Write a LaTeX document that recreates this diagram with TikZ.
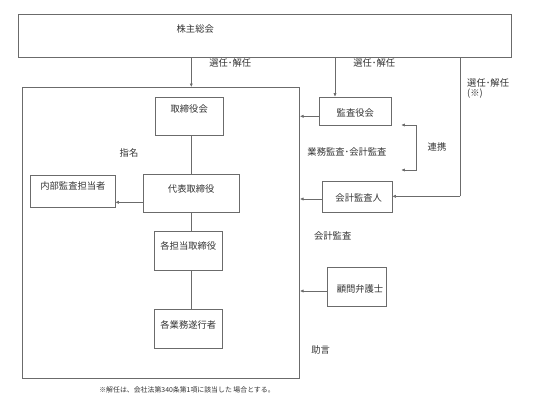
\documentclass[tikz,border=0pt]{standalone}
\usepackage{fontspec}
\newfontfamily\jpfont{Noto Sans CJK JP}
\usetikzlibrary{arrows.meta}
\definecolor{linegray}{gray}{0.42}
\definecolor{txt}{gray}{0.2}
\tikzset{
  boxnode/.style={draw=linegray, line width=0.6pt, inner sep=0pt, anchor=north, align=center,
    font=\jpfont\fontsize{9.3}{11}\selectfont, text=txt},
  lbl/.style={inner sep=0pt, font=\jpfont\fontsize{9.3}{10}\selectfont, text=txt},
  conn/.style={draw=linegray, line width=0.6pt},
  arr/.style={conn, -{Latex[length=3.5pt,width=3.2pt]}},
  barr/.style={conn, {Latex[length=3.5pt,width=3.2pt]}-{Latex[length=3.5pt,width=3.2pt]}},
}
\begin{document}
\begin{tikzpicture}[x=1pt,y=-1pt]
\useasboundingbox[fill=white] (0,0) rectangle (552,415);

% top box
\node[boxnode, align=left, text width=493pt, text height=17.5pt, text depth=25.5pt] (gm) at (264.8,14.3) {\hspace*{158.4pt}株主総会};

% big frame
\node[boxnode, text width=277pt, text height=0pt, text depth=291.3pt] (frame) at (161.2,87) {};

% boxes inside frame
\node[boxnode, text width=68.3pt, text height=15.1pt, text depth=23.2pt] (tb) at (189.2,96.7) {取締役会};
\node[boxnode, text width=84.3pt, text height=14.2pt, text depth=18.1pt] (naibu) at (72.9,175) {内部監査担当者};
\node[boxnode, text width=95.7pt, text height=18.5pt, text depth=19.8pt] (daihyo) at (191.2,174) {代表取締役};
\node[boxnode, text width=68pt, text height=17.9pt, text depth=20.5pt] (kaku) at (188.3,231.3) {各担当取締役};
\node[boxnode, text width=68pt, text height=18.5pt, text depth=19.9pt] (gyomu) at (188.3,309.3) {各業務遂行者};

% boxes outside frame
\node[boxnode, text width=72pt, text height=19.8pt, text depth=8.5pt] (kansa) at (355.3,96.7) {監査役会};
\node[boxnode, text width=69.7pt, text height=20.8pt, text depth=10.5pt] (kaikei) at (357.2,180.7) {\hspace*{3pt}会計監査人};
\node[boxnode, text width=59.3pt, text height=25.2pt, text depth=13.5pt] (komon) at (357,267.3) {\hspace*{6pt}顧問弁護士};

% labels
\node[lbl] (l1) at (230.3,62.7) {選任･解任};
\node[lbl] (l2) at (374.3,62.7) {選任･解任};
\node[lbl, anchor=north west, align=left] (l3) at (467,78.3) {選任･解任\\(※)};
\node[lbl] (shimei) at (129,153) {指名};
\node[lbl] (gk) at (347,151.7) {業務監査･会計監査};
\node[lbl] (renkei) at (437,147.3) {連携};
\node[lbl] (kk) at (332.7,235.7) {会計監査};
\node[lbl] (jogen) at (320.7,350) {助言};
\node[inner sep=0pt, font=\jpfont\fontsize{6.9}{8}\selectfont, text=txt] (note) at (187,390.3) {※解任は、会社法第340条第1項に該当した 場合とする。};

% helper coordinates
\coordinate (spine) at (191.3,0);
\coordinate (kx) at (335,0);
\coordinate (rx) at (460.3,0);
\coordinate (bend) at (460.3,196.3);
\coordinate (br1) at (401.3,125);
\coordinate (br2) at (416.3,125);
\coordinate (br3) at (416.3,170);
\coordinate (br4) at (401.3,170);

% connectors
\draw[arr] (gm.south -| spine) -- (frame.north -| spine);
\draw[arr] (gm.south -| kx) -- (kansa.north -| kx);
\draw[conn] (gm.south -| rx) -- (bend);
\draw[arr] (bend) -- (kaikei.east |- bend);
\draw[arr] (kansa.west |- 0,116.3) -- (frame.east |- 0,116.3);
\draw[arr] (kaikei.west |- 0,199) -- (frame.east |- 0,199);
\draw[arr] (komon.west |- 0,291) -- (frame.east |- 0,291);
\draw[arr] (daihyo.west |- 0,202.3) -- (naibu.east |- 0,202.3);
\draw[barr] (br1) -- (br2) -- (br3) -- (br4);
\draw[conn] (tb.south -| spine) -- (daihyo.north -| spine);
\draw[conn] (daihyo.south -| spine) -- (kaku.north -| spine);
\draw[conn] (kaku.south -| spine) -- (gyomu.north -| spine);
\end{tikzpicture}
\end{document}
